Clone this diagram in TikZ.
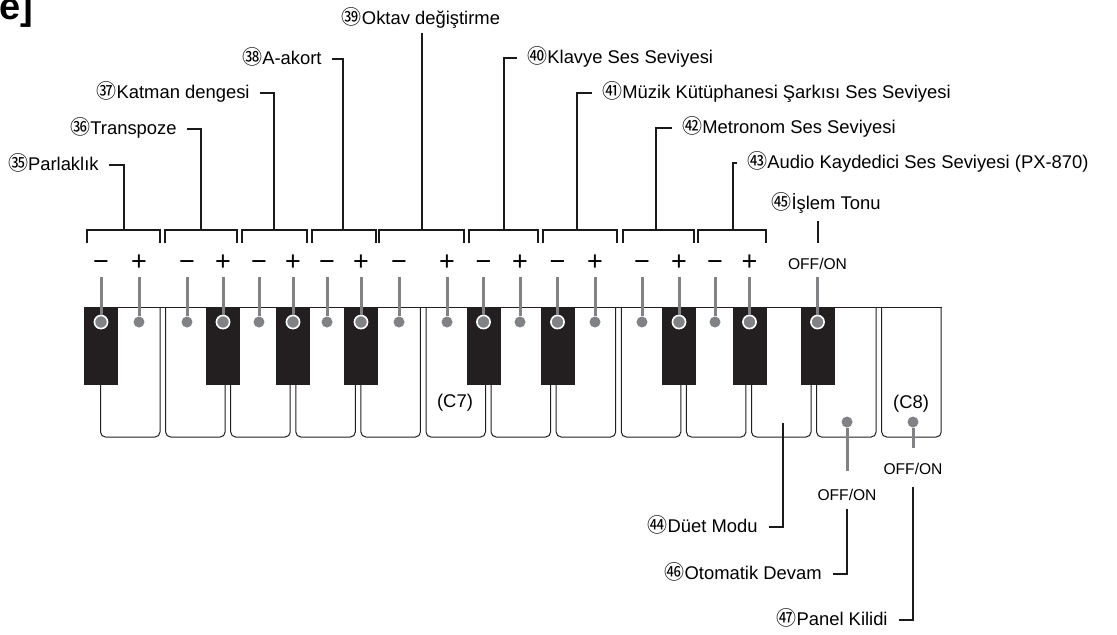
\documentclass[tikz,border=0pt]{standalone}
\usepackage{fontspec}
\setmainfont{Liberation Sans}
\newfontfamily\cjk{Noto Sans CJK JP}
\usepackage{xcolor}
\definecolor{cKey}{HTML}{231F20}
\definecolor{cPin}{HTML}{808285}
\definecolor{cLine}{HTML}{1A1A1A}
\usetikzlibrary{calc}
\newcommand{\cn}[1]{{\cjk\fontsize{10}{11}\selectfont #1}}
\tikzset{
  key-white/.style={draw=cKey,line width=0.5pt,rounded corners=2.5pt},
  key-black/.style={fill=cKey},
  pin-line/.style={draw=cPin,line width=1.5pt},
  pin-dot/.style={circle,fill=cPin,inner sep=0pt,minimum size=5.5pt},
  % knobs sitting on black keys get a white ring
  pin-dot-big/.style={circle,fill=cPin,draw=white,line width=0.8pt,
    inner sep=0pt,minimum size=6.6pt},
  leader/.style={draw=cLine,line width=0.6pt},
  lbl/.style={inner sep=0pt,font=\fontsize{9.2}{11}\selectfont},
  lbl-sign/.style={inner sep=0pt,anchor=base,font=\fontsize{13.5}{15}\selectfont},
  lbl-small/.style={inner sep=0pt,font=\fontsize{7.8}{9}\selectfont},
}

\begin{document}
\begin{tikzpicture}[x=0.5pt,y=-0.5pt]
  \useasboundingbox (0,0) rectangle (1117,634);
  \node[anchor=base west,inner sep=0pt,font=\bfseries\fontsize{19}{21}\selectfont] (hdr) at (-1,19) {e]};

  % white keys E6 .. C8
  \foreach \i in {0,...,12}{
    \pgfmathsetmacro{\xl}{100.5+65.1*\i}
    \draw[key-white] (\xl,307) -- (\xl,437) -- (\xl+59.5,437) -- (\xl+59.5,307);
  }
  \draw[draw=cKey,line width=0.5pt] (84,307) -- (942,307);
  \foreach \xc in {101,223,293,361,483.5,557.5,679,749.5,817.5}
    \fill[key-black] (\xc-17,307) rectangle (\xc+17,385);

  % -/+ knobs
  \foreach \n/\xc/\sg/\dt in {
      1/101/−/pin-dot-big, 2/139/+/pin-dot, 3/187/−/pin-dot, 4/223/+/pin-dot-big,
      5/259/−/pin-dot, 6/293/+/pin-dot-big, 7/327/−/pin-dot, 8/361/+/pin-dot-big,
      9/399/−/pin-dot, 10/447/+/pin-dot, 11/483.5/−/pin-dot-big, 12/520/+/pin-dot,
      13/557.5/−/pin-dot-big, 14/595/+/pin-dot, 15/642/−/pin-dot, 16/679/+/pin-dot-big,
      17/715/−/pin-dot, 18/749.5/+/pin-dot-big}{
    \node[lbl-sign] (s\n) at (\xc,270) {\sg};
    \coordinate (p\n) at (\xc,277);
    \node[\dt] (d\n) at (\xc,322) {};
    \draw[pin-line] (p\n) -- (d\n);
  }
  \node[lbl-small] (s19) at (817.5,264) {OFF/ON};
  \coordinate (p19) at (817.5,277);
  \node[pin-dot-big] (d19) at (817.5,322) {};
  \draw[pin-line] (p19) -- (d19);

  % brackets over the key pairs
  \foreach \n/\l/\r/\s in {35/87/160/124, 36/165/237/201, 37/242/307/274,
      38/312/376/343, 39/379/464/422, 40/469/538/504, 41/543/617/577,
      42/623/694/656, 43/698/766/733}{
    \draw[leader] (\l,243) -- (\l,230) -- (\r,230) -- (\r,243);
    \coordinate (b\n) at (\s,230);
  }

  \node[lbl,anchor=mid east] (l35) at (99,165) {\cn{㉟}Parlaklık};
  \node[lbl,anchor=mid east] (l36) at (177,129) {\cn{㊱}Transpoze};
  \node[lbl,anchor=mid east] (l37) at (250,93) {\cn{㊲}Katman dengesi};
  \node[lbl,anchor=mid east] (l38) at (322,59) {\cn{㊳}A-akort};
  \node[lbl] (l39) at (421,18) {\cn{㊴}Oktav değiştirme};
  \node[lbl,anchor=mid west] (l40) at (527,58) {\cn{㊵}Klavye Ses Seviyesi};
  \node[lbl,anchor=mid west] (l41) at (602,93) {\cn{㊶}Müzik Kütüphanesi Şarkısı Ses Seviyesi};
  \node[lbl,anchor=mid west] (l42) at (682,128) {\cn{㊷}Metronom Ses Seviyesi};
  \node[lbl,anchor=mid west] (l43) at (747,163) {\cn{㊸}Audio Kaydedici Ses Seviyesi (PX-870)};
  \node[lbl] (l45) at (826,203) {\cn{㊺}İşlem Tonu};

  \foreach \n in {35,36,37,38}
    \draw[leader] ($(l\n.mid east)+(10,0)$) -| (b\n);
  \foreach \n in {40,41,42,43}
    \draw[leader] ($(l\n.mid west)+(-10,0)$) -| (b\n);
  \coordinate (t39) at (422,33);
  \draw[leader] (t39) -- (b39);
  \coordinate (t45) at (818,221);
  \coordinate (u45) at (818,243);
  \draw[leader] (t45) -- (u45);

  \node[lbl] (c7) at (455,403) {(C7)};
  \node[lbl] (c8) at (911,404) {(C8)};

  % switches below the keyboard
  \coordinate (k44) at (783,423);
  \node[lbl,anchor=mid east] (l44) at (758,527) {\cn{㊹}Düet Modu};
  \draw[leader] ($(l44.mid east)+(11,0)$) -| (k44);

  \node[pin-dot] (d46) at (847,422) {};
  \coordinate (p46) at (847,471);
  \draw[pin-line] (d46) -- (p46);
  \node[lbl-small] (o46) at (847,495) {OFF/ON};
  \coordinate (q46) at (847,509);
  \node[lbl,anchor=mid east] (l46) at (822,574) {\cn{㊻}Otomatik Devam};
  \draw[leader] ($(l46.mid east)+(11,0)$) -| (q46);

  \node[pin-dot] (d47) at (913,422) {};
  \coordinate (p47) at (913,448);
  \draw[pin-line] (d47) -- (p47);
  \node[lbl-small] (o47) at (913,469) {OFF/ON};
  \coordinate (q47) at (913,487);
  \node[lbl,anchor=mid east] (l47) at (888,620) {\cn{㊼}Panel Kilidi};
  \draw[leader] ($(l47.mid east)+(11,0)$) -| (q47);
\end{tikzpicture}
\end{document}
